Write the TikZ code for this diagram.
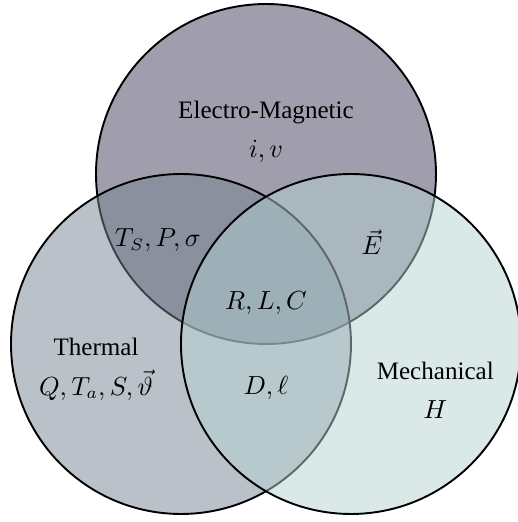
\documentclass[tikz,border=0pt]{standalone}
\usepackage{amsmath}
\usepackage{amssymb}
\usepackage{fontspec}
\setmainfont{Liberation Serif}
\usepackage{tikz}
\usepackage{xcolor}

\definecolor{emfill}{RGB}{65,61,89}
\definecolor{thfill}{RGB}{117,131,145}
\definecolor{mefill}{RGB}{181,209,209}
\tikzset{venncircle/.style={draw=black, thick, fill opacity=0.5}}

\begin{document}
\begin{tikzpicture}[font=\fontsize{10.5}{12.6}\selectfont]
    \useasboundingbox (-3.912,-5.118) rectangle (3.706,2.559);
    \draw[venncircle, fill=emfill] (0,0) circle (2.5);
    \draw[venncircle, fill=thfill] (-1.25,-2.5) circle (2.5);
    \draw[venncircle, fill=mefill] (1.25,-2.5) circle (2.5);
    \node (em) at (0,0.9) {Electro-Magnetic};
    \node (emvar) at (0,0.33) {$i, v$};
    \node (emth) at (-1.59,-0.97) {$T_S, P, \sigma$};
    \node (emme) at (1.56,-1.0) {$\vec{E}$};
    \node (all) at (0,-1.9) {$R, L, C$};
    \node (th) at (-2.5,-2.55) {Thermal};
    \node (thvar) at (-2.5,-3.1) {$Q, T_a, S, \vec{\vartheta}$};
    \node (thme) at (0,-3.15) {$D, \ell$};
    \node (me) at (2.49,-2.9) {Mechanical};
    \node (mevar) at (2.49,-3.46) {$H$};
\end{tikzpicture}
\end{document}
